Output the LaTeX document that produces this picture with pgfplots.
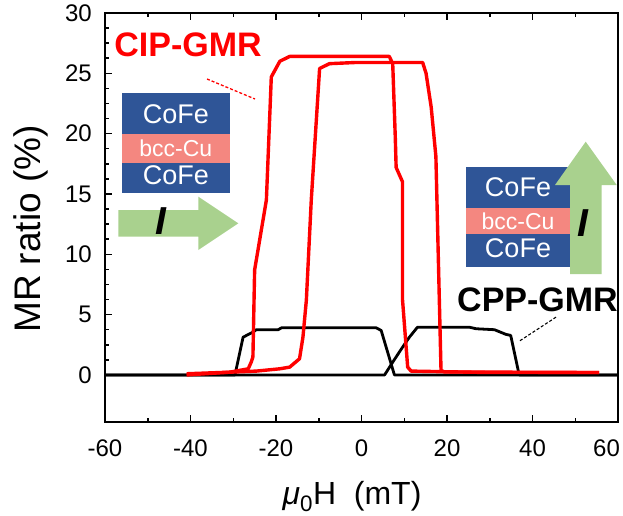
\documentclass[border=0pt]{standalone}
\usepackage{pgfplots}
\pgfplotsset{compat=1.18}
\usepackage{fontspec}
\setmainfont{Liberation Sans}
\definecolor{cofe}{RGB}{47,85,151}
\definecolor{cu}{RGB}{244,135,128}
\definecolor{grn}{RGB}{169,209,142}
\begin{document}
\begin{tikzpicture}
\path[use as bounding box] (0,0) rectangle (623pt,515pt);
\begin{axis}[
  at={(105pt,93pt)}, anchor=south west,
  scale only axis, width=513pt, height=409pt,
  xmin=-60, xmax=60, ymin=-3.9, ymax=30,
  xtick={-60,-40,...,60}, minor x tick num=1,
  xticklabels={{-60},{-40},{-20},{0},{20},{40},{\hspace*{-23pt}60}},
  ytick={0,5,...,30}, minor y tick num=3,
  tick align=inside, xtick pos=both, ytick pos=left,
  major tick length=7pt, minor tick length=4pt,
  axis line style={line width=2pt},
  every tick/.style={line width=1.5pt, black},
  tick label style={font=\fontsize{24}{24}\selectfont, inner sep=0pt},
  xticklabel style={anchor=base, yshift=-34pt},
  yticklabel style={anchor=east, xshift=-13pt},
  /pgf/number format/assume math mode=true,
]
\addplot[black, line width=2.8pt, line join=round] coordinates {
(-60,0) (-29.6,0) (-27.7,3.13) (-25.4,3.55) (-24.6,3.75) (-19.5,3.75) (-18.7,3.91)
(3.4,3.91) (4.6,3.69) (7.7,0) (60,0)};
\addplot[black, line width=2.8pt, line join=round] coordinates {
(-60,0) (5.4,0) (7.3,1.06) (9.6,2.3) (11.2,3.13) (13.1,3.96) (25.2,3.96) (26.8,3.83)
(31.1,3.75) (33.8,3.36) (34.9,3.28) (36.7,0.3) (36.9,0) (60,0)};
\addplot[red, line width=3.4pt, line join=round] coordinates {
(-40.9,0.1) (-30.8,0.23) (-26.5,0.51) (-25.8,1.06) (-25.4,1.5) (-25.0,8.7) (-22.25,14.5)
(-21.1,24.7) (-19.1,26.0) (-16.8,26.4) (6.5,26.4) (7.3,25.8) (7.9,19.7) (8.1,17.2)
(9.6,16.0) (9.6,6.2) (10.8,0.65) (11.6,0.32) (30,0.2) (55.6,0.2)};
\addplot[red, line width=3.4pt, line join=round] coordinates {
(-40.9,0.0) (-30.8,0.23) (-24.6,0.32) (-19.1,0.51) (-16.8,0.65) (-14.5,1.34) (-13.7,3.13)
(-12.9,6.2) (-11.75,14.5) (-9.8,25.4) (-7.5,25.8) (-1.2,25.9) (14.3,25.9) (15.1,25.0)
(16.3,22.2) (17.4,18.1) (18.6,0.37) (19.4,0.25) (55.6,0.2)};
\end{axis}
\begin{scope}[shift={(0pt,515pt)}, x=1pt, y=-1pt]
% axis labels
\node[rotate=90, anchor=base, font=\fontsize{37}{37}\selectfont] at (40,229) {MR ratio (\%)};
\node[anchor=base, font=\fontsize{32}{32}\selectfont] at (352,504) {{\itshape μ}\textsubscript{0}H\ \ (mT)};
% CIP
\node[anchor=base, text=red, font=\fontsize{34}{34}\selectfont\bfseries] at (188,57) {CIP-GMR};
\draw[red, line width=1.3pt, dash pattern=on 3pt off 2pt] (207,79) -- (255,99);
\fill[cofe] (121.7,93.3) rectangle (230,134);
\fill[cu] (121.7,134) rectangle (230,163.3);
\fill[cofe] (121.7,163.3) rectangle (230,192.7);
\node[anchor=base, text=white, font=\fontsize{27}{27}\selectfont] at (175.8,124) {CoFe};
\node[anchor=base, text=white, font=\fontsize{23}{23}\selectfont] at (175.8,156.7) {bcc-Cu};
\node[anchor=base, text=white, font=\fontsize{27}{27}\selectfont] at (175.8,184.3) {CoFe};
\fill[grn] (118.3,210) -- (198.3,210) -- (198.3,196.7) -- (238.3,223.3) -- (198.3,250) -- (198.3,236.7) -- (118.3,236.7) -- cycle;
\node[anchor=base, font=\fontsize{39}{39}\selectfont\bfseries\itshape] at (160.7,234) {I};
% CPP
\fill[cofe] (465.7,166.7) rectangle (570,208.3);
\fill[cu] (465.7,208.3) rectangle (570,234);
\fill[cofe] (465.7,234) rectangle (570,266.7);
\node[anchor=base, text=white, font=\fontsize{27}{27}\selectfont] at (518,196.7) {CoFe};
\node[anchor=base, text=white, font=\fontsize{23}{23}\selectfont] at (518,229) {bcc-Cu};
\node[anchor=base, text=white, font=\fontsize{27}{27}\selectfont] at (518,257.3) {CoFe};
\fill[grn] (570,274) -- (570,185) -- (555,185) -- (585.7,141.7) -- (616.7,185) -- (601.7,185) -- (601.7,274) -- cycle;
\node[anchor=base, font=\fontsize{39}{39}\selectfont\bfseries\itshape] at (583,236) {I};
\node[anchor=base, font=\fontsize{34}{34}\selectfont\bfseries] at (537.5,311.7) {CPP-GMR};
\draw[black, line width=1.1pt, dash pattern=on 3pt off 2pt] (520,340.7) -- (556.7,316.7);
\end{scope}
\end{tikzpicture}
\end{document}
